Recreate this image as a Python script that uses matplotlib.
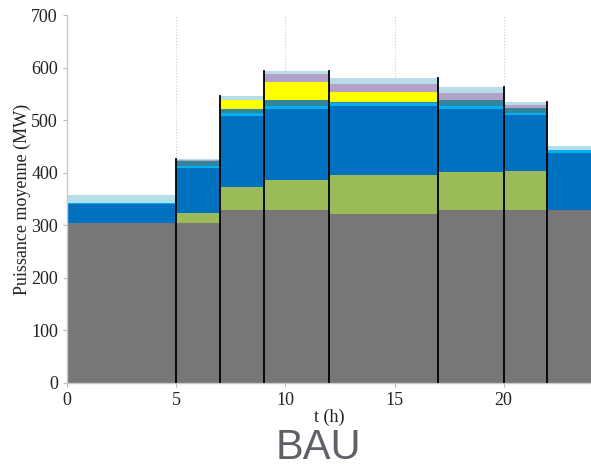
import matplotlib
matplotlib.use("Agg")
import matplotlib.pyplot as plt
import numpy as np

# time blocks (h)
edges = [0, 5, 7, 9, 12, 17, 20, 22, 24]

# stacked layers (MW), bottom to top
gray = [305, 305, 330, 330, 321, 330, 330, 330]
green = [0, 19, 43, 57, 75, 72, 74, 0]
blue = [35, 85, 135, 135, 131, 120, 106, 108]
cyan = [3, 4, 5, 5, 5, 4, 4, 5]
teal = [0, 9, 9, 11, 3, 12, 10, 0]
yellow = [0, 0, 17, 34, 19, 0, 0, 0]
purple = [0, 2, 0, 15, 14, 13, 4, 0]
lightblue = [14, 2, 7, 7, 13, 12, 6, 8]

layers = [gray, green, blue, cyan, teal, yellow, purple, lightblue]
colors = ["#777777", "#9BBB59", "#0070C0", "#00B0F0", "#31859C",
          "#FFFF00", "#B3A2C7", "#B7DEE8"]

plt.rcParams['font.family'] = ['Liberation Serif', 'DejaVu Serif']

fig = plt.figure(figsize=(5.91, 4.69), dpi=100)
ax = fig.add_axes([0.1134, 0.1834, 0.8866, 0.7846])

left = np.array(edges[:-1])
width = np.diff(edges)
bottom = np.zeros(len(left))
for vals, col in zip(layers, colors):
    vals = np.array(vals, dtype=float)
    ax.bar(left, vals, width=width, bottom=bottom, align='edge',
           color=col, linewidth=0, zorder=2)
    bottom = bottom + vals

# black separators between blocks
totals = bottom
for i in range(1, len(edges) - 1):
    top = max(totals[i - 1], totals[i])
    ax.plot([edges[i], edges[i]], [0, top], color='black', lw=1.3, zorder=3)

# dotted grid
for xv in [5, 10, 15, 20]:
    ax.plot([xv, xv], [0, 700], color='#cccccc', lw=0.8, ls=':', zorder=1)

ax.set_xlim(0, 24)
ax.set_ylim(0, 700)
ax.set_xticks([0, 5, 10, 15, 20])
ax.set_yticks(range(0, 701, 100))
ax.tick_params(labelsize=13, colors='#bbbbbb', labelcolor='#222222',
               length=3, width=0.8)
for s in ['top', 'right']:
    ax.spines[s].set_visible(False)
for s in ['left', 'bottom']:
    ax.spines[s].set_color('#c8c8c8')
    ax.spines[s].set_linewidth(1.0)

ax.set_xlabel("t (h)", fontsize=13, color='#222222', labelpad=0)
ax.set_ylabel("Puissance moyenne (MW)", fontsize=13, color='#222222', labelpad=0)

fig.text(0.538, 0.002, "BAU", fontsize=30, color='#606068',
         family=['Liberation Sans', 'DejaVu Sans'], ha='center', va='bottom')

fig.savefig("out.png", dpi=100)
